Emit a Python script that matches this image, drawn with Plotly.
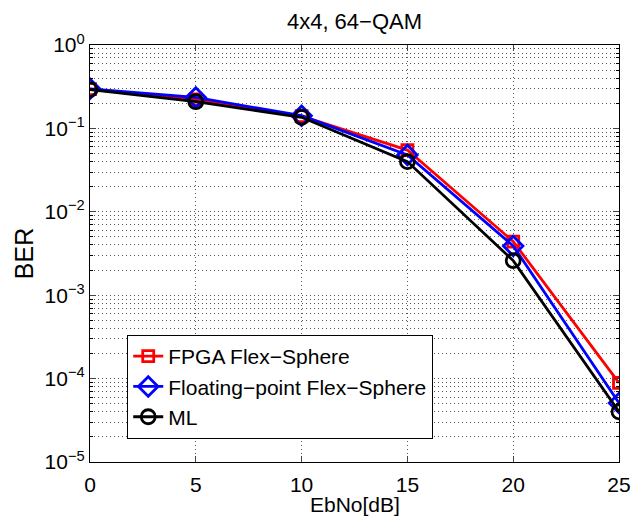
import plotly.graph_objects as go

ebno = [0, 5, 10, 15, 20, 25]
ber_fpga = [0.295, 0.222, 0.140, 0.055, 0.0044, 8.9e-5]
ber_float = [0.298, 0.235, 0.142, 0.048, 0.0039, 5.1e-5]
ber_ml = [0.292, 0.209, 0.136, 0.040, 0.0026, 4.0e-5]
names = ["FPGA Flex\u2212Sphere", "Floating\u2212point Flex\u2212Sphere", "ML"]
ytick_vals = [1e-5, 1e-4, 1e-3, 1e-2, 1e-1, 1e0]
ytick_text = ["10<sup>\u22125</sup>", "10<sup>\u22124</sup>", "10<sup>\u22123</sup>",
              "10<sup>\u22122</sup>", "10<sup>\u22121</sup>", "10<sup>0</sup>"]
x_title = "EbNo[dB]"

fig = go.Figure()
styles = [("red", "square-open", 11), ("blue", "diamond-open", 15), ("black", "circle-open", 14)]
for ys, name, (c, sym, sz) in zip([ber_fpga, ber_float, ber_ml], names, styles):
    fig.add_trace(go.Scatter(x=ebno, y=ys, name=name, mode="lines+markers",
                             line=dict(color=c, width=2.8),
                             marker=dict(symbol=sym, size=sz, color=c, line=dict(width=2.8, color=c))))

FONT = "Liberation Sans, Arial, Helvetica, sans-serif"
grid = dict(showgrid=True, gridcolor="#555", griddash="1px,3px", gridwidth=1)
fig.update_layout(
    width=637, height=516,
    margin=dict(l=90, r=18, t=45, b=54),
    paper_bgcolor="white", plot_bgcolor="white",
    font=dict(family=FONT, size=21, color="black"),
    title=dict(text="4x4, 64\u2212QAM", xref="paper", x=0.5, xanchor="center",
               y=0.959, yanchor="middle", font=dict(size=22)),
    showlegend=True,
    legend=dict(x=0.070, y=0.305, xanchor="left", yanchor="top",
                bgcolor="white", bordercolor="black", borderwidth=1.2,
                font=dict(size=21), tracegroupgap=0),
    annotations=[dict(text=x_title, xref="paper", yref="paper", x=0.5, y=-0.103,
                      xanchor="center", yanchor="middle", showarrow=False,
                      font=dict(size=21))],
)
fig.update_xaxes(range=[0, 25], tickvals=ebno, ticks="inside", ticklen=6,
                 showline=True, linecolor="black", linewidth=1.2, mirror="ticks",
                 zeroline=False, automargin=False, ticklabeloverflow="allow",
                 ticklabelstandoff=4, **grid)
fig.update_yaxes(type="log", range=[-5, 0], tickvals=ytick_vals, ticktext=ytick_text,
                 ticks="inside", ticklen=6, automargin=False,
                 showline=True, linecolor="black", linewidth=1.2, mirror="ticks", **grid,
                 minor=dict(ticks="inside", ticklen=3, dtick="D1", tickcolor="black", **grid),
                 title=dict(text="BER", standoff=3))
fig.write_html("out.html", config={"displayModeBar": False},
               post_script="document.body.style.margin='0';document.body.style.overflow='hidden';")
